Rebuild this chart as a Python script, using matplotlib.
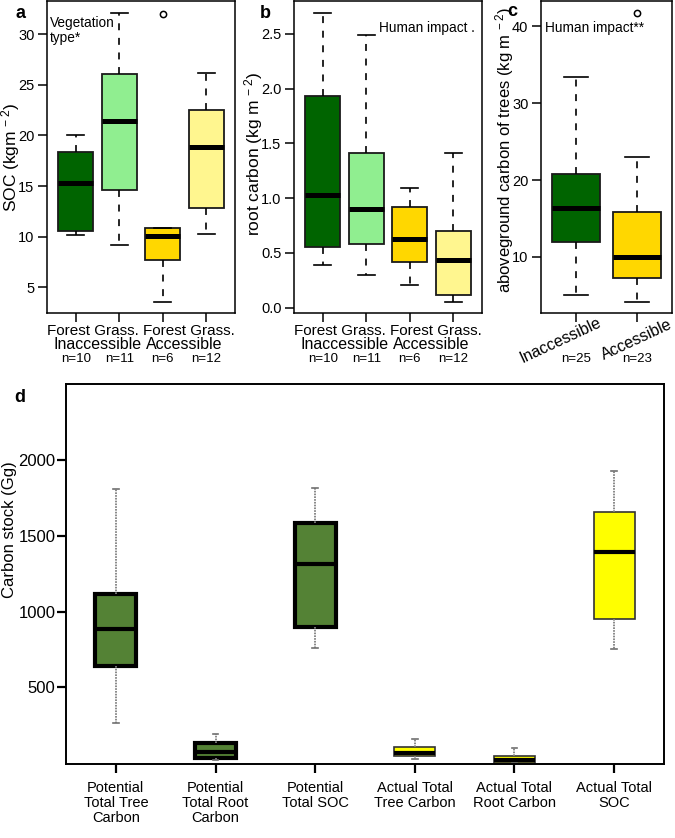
import matplotlib
matplotlib.use("Agg")
import matplotlib.pyplot as plt

plt.rcParams['font.family'] = ['Liberation Sans', 'DejaVu Sans']
plt.rcParams['mathtext.fontset'] = 'custom'
plt.rcParams['mathtext.rm'] = 'Liberation Sans'
plt.rcParams['mathtext.default'] = 'regular'
plt.rcParams['lines.scale_dashes'] = False

# ---------------- data ----------------
# panel a: SOC (kg m-2)
soc_groups = ["Forest", "Grass.", "Forest", "Grass."]
soc_access = ["Inaccessible", "Accessible"]
soc_n = ["n=10", "n=11", "n=6", "n=12"]
soc_whislo = [10.2, 9.2, 3.55, 10.3]
soc_q1 = [10.55, 14.6, 7.75, 12.8]
soc_med = [15.27, 21.4, 10.1, 18.85]
soc_q3 = [18.41, 26.1, 10.9, 22.5]
soc_whishi = [20.06, 32.1, 10.9, 26.2]
soc_fliers = [[], [], [32.0], []]

# panel b: root carbon (kg m-2)
root_n = ["n=10", "n=11", "n=6", "n=12"]
root_whislo = [0.39, 0.30, 0.21, 0.05]
root_q1 = [0.55, 0.58, 0.42, 0.11]
root_med = [1.03, 0.90, 0.63, 0.43]
root_q3 = [1.93, 1.41, 0.92, 0.70]
root_whishi = [2.69, 2.49, 1.09, 1.41]
root_fliers = [[], [], [], []]

# panel c: aboveground carbon of trees (kg m-2)
tree_labels = ["Inaccessible", "Accessible"]
tree_n = ["n=25", "n=23"]
tree_whislo = [5.06, 4.08]
tree_q1 = [11.95, 7.27]
tree_med = [16.4, 10.0]
tree_q3 = [20.74, 15.9]
tree_whishi = [33.4, 23.0]
tree_fliers = [[], [41.8]]

# panel d: carbon stock (Gg)
stock_labels = ["Potential\nTotal Tree\nCarbon", "Potential\nTotal Root\nCarbon",
                "Potential\nTotal SOC", "Actual Total\nTree Carbon",
                "Actual Total\nRoot Carbon", "Actual Total\nSOC"]
stock_whislo = [267, 22, 758, 26, 2, 751]
stock_q1 = [641, 33, 896, 48, 4, 951]
stock_med = [883, 72, 1314, 70, 24, 1393]
stock_q3 = [1118, 131, 1582, 107, 48, 1655]
stock_whishi = [1809, 193, 1813, 160, 100, 1925]

col_abc = ["#006400", "#90EE90", "#FFD700", "#FFF68F"]
col_c = ["#006400", "#FFD700"]
col_pot = "#548235"
col_act = "#FFFF00"


def make_stats(lo, q1, med, q3, hi, fl=None):
    out = []
    for i in range(len(med)):
        out.append(dict(whislo=lo[i], q1=q1[i], med=med[i], q3=q3[i], whishi=hi[i],
                        fliers=(fl[i] if fl else [])))
    return out


W, H = 675, 838
fig = plt.figure(figsize=(W / 100, H / 100), dpi=100)


def px_axes(l, t, r, b):
    return fig.add_axes([l / W, 1 - b / H, (r - l) / W, (b - t) / H])


def r_style(ax, lw=1.1):
    for s in ax.spines.values():
        s.set_linewidth(lw)
        s.set_color("black")
    ax.tick_params(direction="out", length=6.5, width=1.1, color="black",
                   labelsize=10.5, pad=2.5)


def r_box(ax, stats, colors):
    pos = list(range(1, len(stats) + 1))
    res = ax.bxp(stats, positions=pos, widths=0.8, capwidths=0.4, patch_artist=True,
                 showfliers=True,
                 boxprops=dict(edgecolor="#1a1a1a", linewidth=1.3),
                 medianprops=dict(color="black", linewidth=3.6, solid_capstyle="butt"),
                 whiskerprops=dict(color="black", linewidth=1.2, linestyle=(0, (5, 5.5))),
                 capprops=dict(color="black", linewidth=1.2),
                 flierprops=dict(marker="o", markerfacecolor="none", markeredgecolor="black",
                                 markersize=4.5, markeredgewidth=1.1))
    for p, c in zip(res["boxes"], colors):
        p.set_facecolor(c)
    ax.set_xlim(0.5 - 0.04 * len(stats), len(stats) + 0.5 + 0.04 * len(stats))
    return pos


def lower_text(ax, x, txt, off_pt, size, coords=None, **kw):
    ax.annotate(txt, xy=(x, 0), xycoords=coords or ax.get_xaxis_transform(),
                xytext=(0, -off_pt), textcoords="offset points",
                ha="center", va="center", fontsize=size, annotation_clip=False, **kw)


def group_labels(ax, pos, n_labels):
    # "Forest Grass. Forest Grass." as one centred line, like R's mtext
    lower_text(ax, 0.5, " ".join(soc_groups), 13.0, 11, coords=ax.transAxes)
    for k, a in enumerate(soc_access):
        lower_text(ax, (pos[2 * k] + pos[2 * k + 1]) / 2, a, 22.5, 11.5)
    for p, n in zip(pos, n_labels):
        lower_text(ax, p, n, 33.0, 9.5)


# ---------------- panel a ----------------
axa = px_axes(47, 1, 235, 313)
pos = r_box(axa, make_stats(soc_whislo, soc_q1, soc_med, soc_q3, soc_whishi, soc_fliers), col_abc)
r_style(axa)
axa.set_ylim(2.47, 33.28)
axa.set_yticks([5, 10, 15, 20, 25, 30])
axa.set_xticks(pos)
axa.set_xticklabels([])
group_labels(axa, pos, soc_n)
axa.set_ylabel("SOC (kgm$^{\\,-2}$)", fontsize=12.5, va="center")
axa.yaxis.set_label_coords(-0.196, 0.5)
axa.text(0.017, 0.905, "Vegetation\ntype*", transform=axa.transAxes, fontsize=9.8,
         ha="left", va="center", linespacing=1.1)

# ---------------- panel b ----------------
axb = px_axes(294, 1, 482, 313)
pos = r_box(axb, make_stats(root_whislo, root_q1, root_med, root_q3, root_whishi, root_fliers), col_abc)
r_style(axb)
axb.set_ylim(-0.05, 2.80)
axb.set_yticks([0.0, 0.5, 1.0, 1.5, 2.0, 2.5])
axb.set_yticklabels(["0.0", "0.5", "1.0", "1.5", "2.0", "2.5"])
axb.set_xticks(pos)
axb.set_xticklabels([])
group_labels(axb, pos, root_n)
axb.set_ylabel("root carbon (kg m$^{\\,-2}$)", fontsize=12.5, va="center")
axb.yaxis.set_label_coords(-0.213, 0.51)
axb.text(0.452, 0.915, "Human impact .", transform=axb.transAxes, fontsize=9.8,
         ha="left", va="center")

# ---------------- panel c ----------------
axc = px_axes(541, 1, 672, 313)
pos = r_box(axc, make_stats(tree_whislo, tree_q1, tree_med, tree_q3, tree_whishi, tree_fliers), col_c)
r_style(axc)
axc.set_ylim(2.69, 43.3)
axc.set_yticks([10, 20, 30, 40])
axc.set_xticks(pos)
axc.set_xticklabels([])
shifts = [-11, 0]
for p, lab, n, s in zip(pos, tree_labels, tree_n, shifts):
    axc.annotate(lab, xy=(p, 0), xycoords=axc.get_xaxis_transform(),
                 xytext=(s, -19.5), textcoords="offset points",
                 ha="center", va="center", rotation=25, fontsize=11.5,
                 annotation_clip=False)
    lower_text(axc, p, n, 33.0, 9.5)
axc.set_ylabel("aboveground carbon of trees (kg m$^{\\,-2}$)", fontsize=12, va="center")
axc.yaxis.set_label_coords(-0.279, 0.522)
axc.text(0.03, 0.915, "Human impact**", transform=axc.transAxes, fontsize=9.8,
         ha="left", va="center")

# ---------------- panel d ----------------
axd = px_axes(66, 384, 664, 764)
dpos = list(range(1, 7))
dstats = make_stats(stock_whislo, stock_q1, stock_med, stock_q3, stock_whishi)
common = dict(widths=0.41, capwidths=0.06, patch_artist=True, showfliers=False,
              medianprops=dict(color="black", linewidth=3.0, solid_capstyle="butt"),
              whiskerprops=dict(color="#808080", linewidth=1.3, linestyle=(0, (1.2, 0.8))),
              capprops=dict(color="#707070", linewidth=1.2))
axd.bxp(dstats[:3], positions=dpos[:3],
        boxprops=dict(edgecolor="black", linewidth=3.0, facecolor=col_pot), **common)
axd.bxp(dstats[3:], positions=dpos[3:],
        boxprops=dict(edgecolor="#333333", linewidth=1.2, facecolor=col_act), **common)
for s in axd.spines.values():
    s.set_linewidth(1.4)
axd.set_xlim(0.5, 6.5)
axd.set_ylim(-5, 2500)
axd.set_yticks([500, 1000, 1500, 2000])
axd.set_xticks(dpos)
axd.set_xticklabels(stock_labels, fontsize=10.5, linespacing=1.1)
axd.tick_params(direction="out", length=6.5, width=1.6, labelsize=12, pad=1)
axd.tick_params(axis="x", labelsize=10.5, pad=5.5)
axd.set_ylabel("Carbon stock (Gg)", fontsize=12, va="center")
axd.yaxis.set_label_coords(-0.094, 0.616)

# ---------------- panel letters ----------------
for (x, y, t) in [(20, 13, "a"), (265, 13, "b"), (512, 11, "c"), (20, 397, "d")]:
    fig.text(x / W, 1 - y / H, t, fontsize=13, fontweight="bold", ha="center", va="center")

fig.savefig("out.png", dpi=100)
